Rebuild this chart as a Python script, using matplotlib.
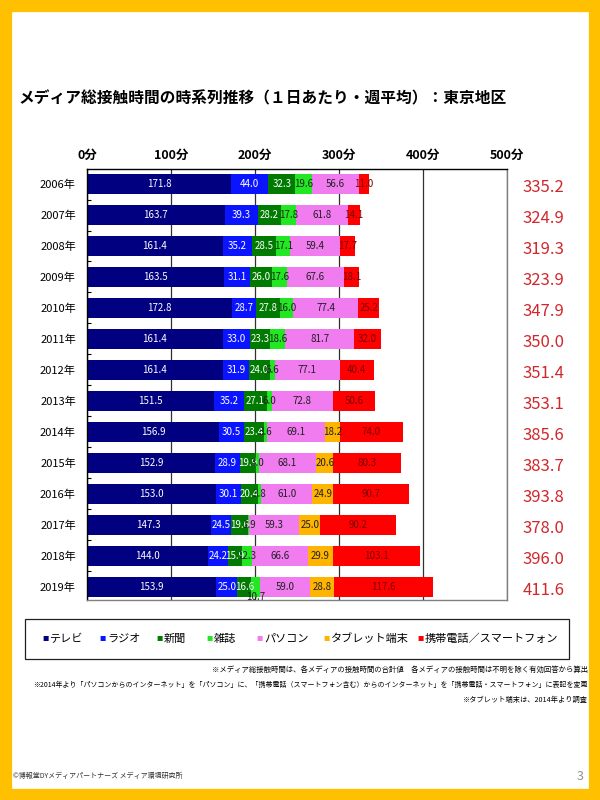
import numpy as np
import matplotlib
matplotlib.use('Agg')
import matplotlib.pyplot as plt
from matplotlib.patches import Rectangle

plt.rcParams['font.family'] = ['Noto Sans CJK JP', 'DejaVu Sans']

years = ['2006年', '2007年', '2008年', '2009年', '2010年', '2011年', '2012年',
         '2013年', '2014年', '2015年', '2016年', '2017年', '2018年', '2019年']
media = ['テレビ', 'ラジオ', '新聞', '雑誌', 'パソコン', 'タブレット端末', '携帯電話／スマートフォン']

tv = [171.8, 163.7, 161.4, 163.5, 172.8, 161.4, 161.4, 151.5, 156.9, 152.9, 153.0, 147.3, 144.0, 153.9]
radio = [44.0, 39.3, 35.2, 31.1, 28.7, 33.0, 31.9, 35.2, 30.5, 28.9, 30.1, 24.5, 24.2, 25.0]
newspaper = [32.3, 28.2, 28.5, 26.0, 27.8, 23.3, 24.0, 27.1, 23.4, 19.9, 20.4, 19.6, 15.9, 16.6]
magazine = [19.6, 17.8, 17.1, 17.6, 16.0, 18.6, 6.6, 6.0, 3.6, 3.0, 3.8, 1.9, 12.3, 10.7]
pc = [56.6, 61.8, 59.4, 67.6, 77.4, 81.7, 77.1, 72.8, 69.1, 68.1, 61.0, 59.3, 66.6, 59.0]
tablet = [0, 0, 0, 0, 0, 0, 0, 0, 18.2, 20.6, 24.9, 25.0, 29.9, 28.8]
mobile = [11.0, 14.1, 17.7, 18.1, 25.2, 32.0, 40.4, 50.6, 74.0, 80.3, 90.7, 90.2, 103.1, 117.6]
totals = [335.2, 324.9, 319.3, 323.9, 347.9, 350.0, 351.4, 353.1, 385.6, 383.7, 393.8, 378.0, 396.0, 411.6]

xticks = [0, 100, 200, 300, 400, 500]

series = [tv, radio, newspaper, magazine, pc, tablet, mobile]
colors = ['#000080', '#0A14FF', '#007A00', '#22E822', '#F07CF0', '#FFB400', '#FF0000']
label_colors = ['white', 'white', 'white', '#202020', '#202020', '#202020', '#7A0000']

fig = plt.figure(figsize=(6, 8), dpi=100)
fig.patch.set_facecolor('white')

# yellow frame
fig.patches.append(Rectangle((0.0065, 0.005), 0.987, 0.99, transform=fig.transFigure,
                             fill=False, edgecolor='#FFC000', linewidth=11, zorder=10))

fig.text(18 / 600, 1 - 98 / 800, 'メディア総接触時間の時系列推移（１日あたり・週平均）：東京地区',
         fontsize=11.3, fontweight='bold', va='center', ha='left')

ax = fig.add_axes([87 / 600, 0.25, 0.7, 0.53875])
y = np.arange(len(years))
left = np.zeros(len(years))
for k, (vals, col) in enumerate(zip(series, colors)):
    vals = np.array(vals)
    ax.barh(y, vals, left=left, height=0.65, color=col, linewidth=0)
    for i, v in enumerate(vals):
        if v <= 0:
            continue
        dy = 0
        if k == 3 and i == 13:
            dy = 0.33  # 2019 magazine label sits lower in the original
        ax.text(left[i] + v / 2, y[i] + dy, f'{v:.1f}', ha='center', va='center',
                fontsize=7.0, color=label_colors[k])
    left += vals

for i, t in enumerate(totals):
    ax.text(1.087, y[i] + 0.1, f'{t:.1f}', transform=ax.get_yaxis_transform(),
            ha='center', va='center', fontsize=12, color='#D0282D')

ax.set_xlim(0, 500)
ax.set_ylim(len(years) - 0.58, -0.484)
ax.xaxis.tick_top()
ax.set_xticks(xticks)
ax.set_xticklabels([f'{v}分' for v in xticks], fontsize=9, fontweight='bold')
ax.tick_params(axis='x', length=0, pad=5)
ax.set_yticks(y)
ax.set_yticklabels(years, fontsize=8)
ax.tick_params(axis='y', length=0, pad=8)
ax.set_yticks(y[:-1] + 0.5, minor=True)
ax.tick_params(axis='y', which='minor', direction='in', length=3, width=0.8)
ax.grid(axis='x', color='#303030', linewidth=0.9)
ax.set_axisbelow(True)
for s in ['left', 'top']:
    ax.spines[s].set_color('black')
    ax.spines[s].set_linewidth(1)
for s in ['right', 'bottom']:
    ax.spines[s].set_color('#808080')
    ax.spines[s].set_linewidth(1)

# legend
fig.patches.append(Rectangle((25 / 600, 1 - 659 / 800), 544 / 600, 40 / 800,
                             transform=fig.transFigure, fill=False,
                             edgecolor='#202020', linewidth=0.9))
marker_x = [42, 99, 156, 206, 256, 323, 417]
for name, col, mx in zip(media, colors, marker_x):
    fig.text(mx / 600, 1 - 639 / 800, '■', color=col, fontsize=4.5, ha='left', va='center')
    fig.text((mx + 8) / 600, 1 - 639 / 800, name, fontsize=8, ha='left', va='center')

notes = ['※メディア総接触時間は、各メディアの接触時間の合計値　各メディアの接触時間は不明を除く有効回答から算出',
         '※2014年より「パソコンからのインターネット」を「パソコン」に、「携帯電話（スマートフォン含む）からのインターネット」を「携帯電話・スマートフォン」に表記を変更',
         '※タブレット端末は、2014年より調査']
note_sizes = [5.3, 5.0, 5.2]
for n, (txt, fs) in enumerate(zip(notes, note_sizes)):
    fig.text(588 / 600, 1 - (670 + 15 * n) / 800, txt, fontsize=fs, ha='right', va='center')

fig.text(13 / 600, 1 - 776 / 800, '©博報堂DYメディアパートナーズ メディア環境研究所',
         fontsize=5, color='#303030', ha='left', va='center')
fig.text(580 / 600, 1 - 776 / 800, '3', fontsize=9, color='#909090', ha='center', va='center')

fig.savefig('out.png', dpi=100)
